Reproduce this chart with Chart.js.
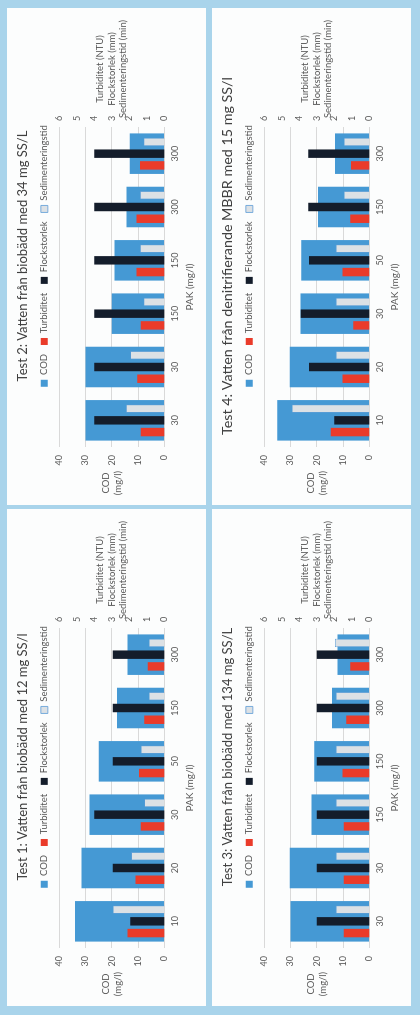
<!DOCTYPE html>
<html lang="sv">
<head>
<meta charset="UTF-8" />
<title>PAK-tester</title>
<script src="https://cdn.jsdelivr.net/npm/chart.js"></script>
<style>
    html, body {
        margin: 0;
        padding: 0;
    }
    body {
        width: 420px;
        height: 1015px;
        background: #a9d4eb;
        position: relative;
        overflow: hidden;
        font-family: Lato, sans-serif;
    }
    .panel {
        position: absolute;
        width: 199px;
        height: 497px;
        background: #fcfdfd;
        overflow: hidden;
    }
    /* the chart is drawn upright and then turned a quarter to the left */
    .rot {
        position: absolute;
        left: 0;
        top: 496px;
        width: 496px;
        height: 199px;
        transform-origin: 0 0;
        transform: rotate(-90deg);
    }
</style>
</head>
<body>
    <div class="panel" style="left:7px;top:8px"><div class="rot"><canvas id="c2" width="496" height="199"></canvas></div></div>
    <div class="panel" style="left:212px;top:8px"><div class="rot"><canvas id="c4" width="496" height="199"></canvas></div></div>
    <div class="panel" style="left:7px;top:509px"><div class="rot"><canvas id="c1" width="496" height="199"></canvas></div></div>
    <div class="panel" style="left:212px;top:509px"><div class="rot"><canvas id="c3" width="496" height="199"></canvas></div></div>

<script>
    // Test 1
    const test1Labels = ['10', '20', '30', '50', '150', '300'];
    const test1COD = [34, 31.5, 28.5, 25, 18, 14];
    const test1Turb = [2.1, 1.65, 1.35, 1.45, 1.15, 0.95];
    const test1Flock = [1.95, 2.95, 4, 2.95, 2.95, 2.95];
    const test1Sed = [2.95, 1.9, 1.15, 1.35, 0.9, 0.9];

    // Test 2
    const test2Labels = ['30', '30', '150', '150', '300', '300'];
    const test2COD = [30, 30, 20, 19, 14.4, 13.2];
    const test2Turb = [1.35, 1.55, 1.35, 1.6, 1.6, 1.4];
    const test2Flock = [4, 4, 4, 4, 4, 4];
    const test2Sed = [2.2, 1.95, 1.2, 1.4, 1.4, 1.2];

    // Test 3
    const test3Labels = ['30', '30', '150', '150', '300', '300'];
    const test3COD = [30, 30.3, 22, 21, 14.2, 12.1];
    const test3Turb = [1.47, 1.47, 1.47, 1.53, 1.33, 1.1];
    const test3Flock = [3, 3, 3, 3, 3, 3];
    const test3Sed = [1.93, 1.93, 1.93, 1.93, 1.93, 1.97];

    // Test 4
    const test4Labels = ['10', '20', '30', '50', '150', '300'];
    const test4COD = [35, 30.3, 26.2, 25.9, 19.5, 13.1];
    const test4Turb = [2.2, 1.53, 0.93, 1.53, 1.1, 1.06];
    const test4Flock = [2.0, 3.44, 3.92, 3.44, 3.48, 3.48];
    const test4Sed = [4.43, 1.93, 1.93, 1.93, 1.47, 1.47];

    const leftTitle = ['COD', '(mg/l)'];
    const rightTitle = ['Turbiditet (NTU)', 'Flockstorlek (mm)', 'Sedimenteringstid (min)'];

    const textGrey = '#595959';

    // horizontal axis titles, like the ones in the original sheet
    const axisTitles = {
        id: 'axisTitles',
        afterDraw(chart) {
            const { ctx } = chart;
            const y = chart.scales.y;
            const y2 = chart.scales.y2;
            const mid = (y.top + y.bottom) / 2;
            const lh = 11.5;
            ctx.save();
            ctx.font = '9.5px Lato';
            ctx.fillStyle = textGrey;
            ctx.textAlign = 'center';
            ctx.textBaseline = 'middle';
            leftTitle.forEach((t, i) => {
                ctx.fillText(t, y.left + 21, mid + (i - (leftTitle.length - 1) / 2) * lh);
            });
            rightTitle.forEach((t, i) => {
                ctx.fillText(t, y2.left + 58, mid + (i - (rightTitle.length - 1) / 2) * lh);
            });
            ctx.restore();
        }
    };

    function makeChart(id, title, titleSize, labels, cod, turb, flock, sed) {
        const ctx = document.getElementById(id).getContext('2d');
        const small = { yAxisID: 'y2', order: 0, categoryPercentage: 0.66, barPercentage: 0.72 };
        return new Chart(ctx, {
            type: 'bar',
            data: {
                labels,
                datasets: [
                    // COD is the wide bar behind the three others
                    { label: 'COD', data: cod, backgroundColor: '#4599d4', yAxisID: 'y', order: 1, grouped: false, categoryPercentage: 0.76, barPercentage: 1 },
                    { label: 'Turbiditet', data: turb, backgroundColor: '#ea3b2a', ...small },
                    { label: 'Flockstorlek', data: flock, backgroundColor: '#141d2b', ...small },
                    { label: 'Sedimenteringstid', data: sed, backgroundColor: '#dce1e5', borderColor: '#5b9bd5', borderWidth: 0.8, ...small }
                ]
            },
            options: {
                responsive: false,
                animation: false,
                layout: { padding: 0 },
                plugins: {
                    title: {
                        display: true,
                        text: title,
                        color: '#404040',
                        font: { size: titleSize, weight: 'normal', lineHeight: 15.6 / titleSize },
                        padding: { top: 8, bottom: 0 }
                    },
                    legend: {
                        labels: {
                            color: textGrey,
                            font: { size: 9.5 },
                            boxWidth: 7,
                            boxHeight: 7,
                            padding: 9,
                            sort: (a, b) => a.datasetIndex - b.datasetIndex
                        }
                    },
                    tooltip: { enabled: false }
                },
                scales: {
                    x: {
                        grid: { display: false, drawTicks: false },
                        border: { display: false },
                        ticks: { color: textGrey, font: { size: 9 }, padding: 5, maxRotation: 0 },
                        title: { display: true, text: 'PAK (mg/l)', color: textGrey, font: { size: 10 }, padding: { top: 0, bottom: 10 } },
                        afterFit: s => { s.height = 41.5; }
                    },
                    y: {
                        position: 'left',
                        min: 0,
                        max: 40,
                        ticks: { stepSize: 10, color: textGrey, font: { size: 9 }, padding: 8 },
                        grid: { color: '#d9d9d9', drawTicks: false },
                        border: { display: false },
                        afterFit: s => { s.width = 57; }
                    },
                    y2: {
                        position: 'right',
                        min: 0,
                        max: 6,
                        ticks: { stepSize: 1, color: textGrey, font: { size: 9 }, padding: 6 },
                        grid: { display: false, drawTicks: false },
                        border: { display: false },
                        afterFit: s => { s.width = 119; }
                    }
                }
            },
            plugins: [axisTitles]
        });
    }

    function drawAll() {
        Chart.defaults.font.family = 'Lato, sans-serif';
        makeChart('c1', 'Test 1: Vatten från biobädd med 12 mg SS/l', 13, test1Labels, test1COD, test1Turb, test1Flock, test1Sed);
        makeChart('c2', 'Test 2: Vatten från biobädd med 34 mg SS/L', 13, test2Labels, test2COD, test2Turb, test2Flock, test2Sed);
        makeChart('c3', 'Test 3: Vatten från biobädd med 134 mg SS/L', 13, test3Labels, test3COD, test3Turb, test3Flock, test3Sed);
        makeChart('c4', 'Test 4: Vatten från denitrifierande MBBR med 15 mg SS/l', 14.3, test4Labels, test4COD, test4Turb, test4Flock, test4Sed);
    }

    if (document.fonts && document.fonts.load) {
        Promise.all([document.fonts.load('10px Lato'), document.fonts.load('13px Lato')])
            .then(drawAll, drawAll);
    } else {
        drawAll();
    }
</script>
</body>
</html>
